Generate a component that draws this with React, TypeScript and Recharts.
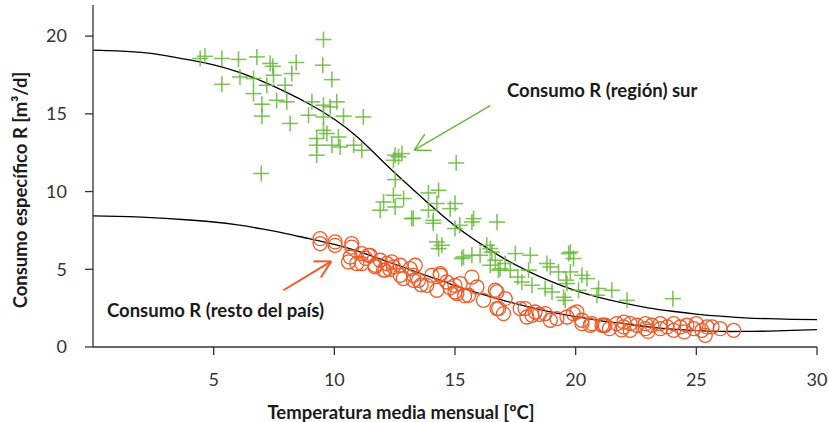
import {
  ComposedChart,
  Line,
  ReferenceLine,
  Scatter,
  XAxis,
  YAxis,
} from 'recharts'

// región sur (cruces verdes)
const surTemp = [
  4.64, 4.44, 5.34, 6.03, 6.79, 7.34, 7.45, 8.42, 9.52, 9.55, 8.24, 7.48, 6.09, 9.9, 5.34, 6.65, 7.2, 7.96,
  6.65, 7.61, 8.03, 7.0, 7.0, 8.17, 9.07, 9.55, 10.1, 9.83, 8.93, 9.55, 10.38, 11.2, 9.55, 9.27, 9.69, 10.17,
  9.27, 9.9, 10.24, 10.8, 9.27, 11.14, 6.97, 12.52, 12.66, 12.45, 12.8, 15.05, 12.52, 14.32, 13.9, 12.45,
  12.87, 12.04, 11.9, 12.52, 15.0, 14.8, 14.25, 13.9, 13.2, 14.1, 15.77, 16.74, 15.0, 14.25, 14.46, 14.32,
  16.46, 15.35, 16.67, 16.04, 17.08, 16.32, 16.53, 17.5, 18.12, 16.46, 16.87, 17.29, 18.05, 18.81, 18.95,
  19.71, 19.91, 19.29, 19.78, 20.26, 20.47, 17.77, 18.19, 18.74, 19.02, 19.64, 20.12, 20.95, 21.5, 20.88,
  19.57, 22.13, 24.03, 15.2, 15.7, 14.1, 13.27, 15.28, 15.7, 16.8, 17.6, 19.5, 19.6, 19.78,
]
const surCons = [
  18.7, 18.56, 18.56, 18.5, 18.66, 18.24, 18.06, 18.3, 18.13, 19.78, 17.59, 17.48, 17.37, 17.2, 16.9, 17.27,
  16.84, 16.84, 16.3, 15.87, 15.77, 15.62, 14.85, 14.38, 15.77, 15.55, 15.77, 15.44, 14.91, 14.8, 14.85, 14.8,
  13.94, 13.41, 13.73, 13.51, 12.98, 12.98, 12.87, 12.98, 12.34, 12.66, 11.16, 12.34, 12.23, 12.01, 12.44,
  11.84, 10.77, 10.08, 9.91, 9.76, 9.55, 9.33, 8.8, 9.01, 9.23, 8.9, 9.23, 8.8, 8.26, 8.15, 8.26, 8.04, 7.62,
  6.76, 6.54, 6.33, 6.33, 5.79, 5.58, 5.9, 5.37, 6.54, 6.11, 6.01, 5.9, 5.26, 5.04, 4.94, 4.94, 5.37, 5.15,
  6.01, 5.69, 4.83, 4.83, 4.61, 4.4, 4.18, 3.97, 3.76, 3.54, 4.08, 3.65, 3.76, 3.65, 3.33, 3.0, 3.0, 3.11,
  7.83, 8.04, 7.96, 8.28, 5.69, 5.9, 4.94, 4.5, 3.2, 4.3, 6.1,
]

// resto del país (círculos rojos)
const restoTemp = [
  9.41, 9.41, 10.03, 10.72, 10.59, 10.66, 11.14, 11.14, 11.48, 11.69, 11.9, 12.1, 12.38, 12.73, 13.14, 12.86,
  13.28, 10.03, 10.72, 11.41, 10.93, 11.69, 12.17, 12.04, 12.45, 12.73, 13.35, 13.28, 13.49, 13.83, 14.04,
  14.39, 14.66, 14.25, 15.08, 15.0, 15.0, 15.22, 15.7, 15.91, 15.56, 16.18, 16.74, 16.81, 17.01, 17.7, 17.98,
  18.32, 18.74, 18.95, 19.22, 19.64, 20.05, 20.26, 20.6, 21.09, 14.39, 16.67, 17.08, 16.74, 17.9, 18.19, 18.5,
  19.9, 20.26, 21.16, 20.67, 21.22, 21.4, 21.7, 21.98, 22.26, 22.26, 22.54, 22.89, 22.89, 23.16, 23.51, 23.51,
  23.79, 24.06, 24.06, 24.34, 24.61, 24.89, 25.23, 25.44, 25.37, 25.65, 25.99, 26.55, 22.0, 23.0, 24.5, 25.0,
  21.9, 13.6, 14.8, 15.4, 12.3, 11.3,
]
const restoCons = [
  6.97, 6.65, 6.54, 6.43, 5.47, 5.79, 6.01, 5.37, 5.9, 5.15, 5.58, 4.94, 5.47, 5.26, 5.04, 4.4, 4.29, 6.76,
  6.65, 5.9, 5.37, 5.26, 5.37, 4.94, 5.15, 4.61, 5.26, 4.61, 4.29, 3.97, 4.61, 4.61, 4.18, 3.65, 3.44, 3.97,
  3.54, 4.08, 4.5, 3.86, 3.33, 3.0, 3.54, 2.47, 2.15, 2.47, 1.93, 2.25, 2.15, 1.72, 1.83, 1.93, 2.25, 1.72,
  1.4, 1.4, 4.72, 3.65, 3.11, 2.47, 2.47, 2.04, 2.1, 2.15, 1.5, 1.4, 1.5, 1.4, 1.18, 1.5, 1.29, 1.5, 1.07,
  1.4, 1.18, 1.5, 1.4, 1.18, 1.5, 1.29, 1.5, 1.07, 1.29, 1.4, 1.18, 1.07, 1.29, 0.75, 1.29, 1.18, 1.07, 1.6,
  1.0, 0.97, 1.5, 1.1, 4.0, 3.8, 3.3, 5.0, 5.7,
]

// curvas ajustadas, leídas cada 1 ºC
const curveTemp = [
  0, 1, 2, 3, 4, 5, 6, 7, 8, 9, 10, 11, 12, 13, 14, 15, 16, 17, 18, 19, 20, 21, 22, 23, 24, 25, 26, 27, 28, 29, 30,
]
const surFit = [
  19.1, 19.05, 18.95, 18.75, 18.47, 18.15, 17.7, 17.1, 16.4, 15.6, 14.65, 13.45, 11.95, 10.5, 9.1, 7.8, 6.7,
  5.72, 4.9, 4.2, 3.62, 3.18, 2.82, 2.52, 2.3, 2.12, 1.98, 1.88, 1.82, 1.78, 1.76,
]
const restoFit = [
  8.43, 8.4, 8.35, 8.27, 8.17, 8.04, 7.85, 7.6, 7.3, 6.95, 6.6, 6.15, 5.6, 5.05, 4.5, 3.95, 3.45, 3.0, 2.6,
  2.25, 1.95, 1.7, 1.5, 1.3, 1.15, 1.05, 1.0, 1.0, 1.02, 1.07, 1.12,
]

const xTicks = [5, 10, 15, 20, 25, 30]
const yTicks = [0, 5, 10, 15, 20]

const surData = surTemp.map((t, i) => ({ t, c: surCons[i] }))
const restoData = restoTemp.map((t, i) => ({ t, c: restoCons[i] }))
const surFitData = curveTemp.map((t, i) => ({ t, c: surFit[i] }))
const restoFitData = curveTemp.map((t, i) => ({ t, c: restoFit[i] }))

const GREEN = '#6cb83f'
const RED = '#f05a28'
const FONT = 'Lato, "Open Sans", sans-serif'

const Cross = (props: any) => {
  const { cx, cy } = props
  return (
    <g stroke={GREEN} strokeWidth={1.6} strokeOpacity={0.85}>
      <line x1={cx - 8} y1={cy} x2={cx + 8} y2={cy} />
      <line x1={cx} y1={cy - 8} x2={cx} y2={cy + 8} />
    </g>
  )
}

const Ring = (props: any) => {
  const { cx, cy } = props
  return <circle cx={cx} cy={cy} r={7} fill="none" stroke={RED} strokeWidth={1.3} />
}

const textStyle = {
  position: 'absolute' as const,
  fontFamily: FONT,
  fontWeight: 700,
  fontSize: 18.5,
  color: '#1a1a1a',
  whiteSpace: 'nowrap' as const,
  lineHeight: 1,
}

export default function App() {
  return (
    <div style={{ position: 'absolute', left: 0, top: 0, width: 829, height: 422, background: '#fff' }}>
      <ComposedChart width={829} height={422} margin={{ top: 5, right: 12, bottom: 0, left: 0 }}>
        <XAxis
          type="number"
          dataKey="t"
          domain={[0, 30]}
          ticks={xTicks}
          height={75}
          tickSize={8}
          tickMargin={18}
          stroke="#333"
          strokeWidth={1.3}
          tick={{ fontSize: 18, fill: '#333', fontFamily: FONT }}
        />
        <YAxis
          type="number"
          dataKey="c"
          domain={[0, 22]}
          ticks={yTicks}
          width={93}
          tickSize={8}
          tickMargin={18}
          stroke="#333"
          strokeWidth={1.3}
          tick={{ fontSize: 18, fill: '#333', fontFamily: FONT }}
        />
        <Line data={surFitData} dataKey="c" type="natural" stroke="#000" strokeWidth={1.3} dot={false} isAnimationActive={false} />
        <Line data={restoFitData} dataKey="c" type="natural" stroke="#000" strokeWidth={1.3} dot={false} isAnimationActive={false} />
        <Scatter data={surData} dataKey="c" shape={<Cross />} isAnimationActive={false} />
        <Scatter data={restoData} dataKey="c" shape={<Ring />} isAnimationActive={false} />
        <ReferenceLine segment={[{ x: 16.46, y: 15.53 }, { x: 13.31, y: 12.66 }]} stroke={GREEN} strokeWidth={1.5} ifOverflow="visible" />
        <ReferenceLine segment={[{ x: 13.75, y: 13.69 }, { x: 13.31, y: 12.66 }]} stroke={GREEN} strokeWidth={1.5} ifOverflow="visible" />
        <ReferenceLine segment={[{ x: 14.04, y: 12.64 }, { x: 13.31, y: 12.66 }]} stroke={GREEN} strokeWidth={1.5} ifOverflow="visible" />
        <ReferenceLine segment={[{ x: 7.89, y: 3.65 }, { x: 9.87, y: 5.51 }]} stroke={RED} strokeWidth={2} ifOverflow="visible" />
        <ReferenceLine segment={[{ x: 9.13, y: 5.51 }, { x: 9.87, y: 5.51 }]} stroke={RED} strokeWidth={2} ifOverflow="visible" />
        <ReferenceLine segment={[{ x: 9.44, y: 4.47 }, { x: 9.87, y: 5.51 }]} stroke={RED} strokeWidth={2} ifOverflow="visible" />
      </ComposedChart>
      <div style={{ ...textStyle, left: 507, top: 81 }}>Consumo R (región) sur</div>
      <div style={{ ...textStyle, left: 107, top: 301 }}>Consumo R (resto del país)</div>
      <div style={{ ...textStyle, left: 401, top: 412, transform: 'translate(-50%, -50%)' }}>
        Temperatura media mensual [ºC]
      </div>
      <div style={{ ...textStyle, left: 20, top: 190, transform: 'translate(-50%, -50%) rotate(-90deg)' }}>
        Consumo específico R [m³/d]
      </div>
    </div>
  )
}
